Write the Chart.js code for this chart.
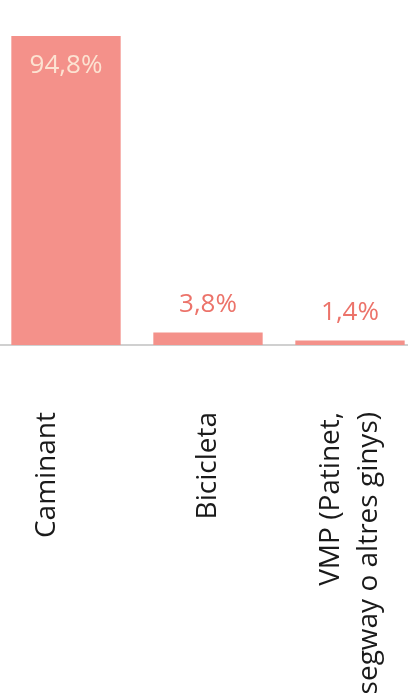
<!DOCTYPE html>
<html>
<head>
<meta charset="utf-8">
<script src="https://cdn.jsdelivr.net/npm/chart.js@4/dist/chart.umd.min.js"></script>
<style>
  html, body { margin: 0; padding: 0; background: #fff; overflow: hidden; }
  #wrap { position: absolute; left: -5px; top: 0; width: 426px; height: 699px; }
</style>
</head>
<body>
<div id="wrap"><canvas id="mode-chart"></canvas></div>
<script>
// Mode of travel share (%)
const categories = [["Caminant", ""], ["Bicicleta"], ["VMP (Patinet,", "segway o altres ginys)"]];
const shares = [94.8, 3.8, 1.4];
const yTicks = [0, 100];

const BAR_COLOR = "#F4918A";
const INSIDE_COLOR = "#FCE3D2";
const OUTSIDE_COLOR = "#EC736A";

const valueLabels = {
    id: "valueLabels",
    afterDatasetsDraw(chart) {
        const { ctx } = chart;
        const meta = chart.getDatasetMeta(0);
        ctx.save();
        ctx.font = '26px "Open Sans"';
        ctx.textAlign = "center";
        ctx.textBaseline = "middle";
        meta.data.forEach((bar, i) => {
            const text = shares[i].toFixed(1).replace(".", ",") + "%";
            const inside = bar.base - bar.y > 80;
            ctx.fillStyle = inside ? INSIDE_COLOR : OUTSIDE_COLOR;
            ctx.fillText(text, bar.x, inside ? bar.y + 30 : bar.y - 28);
        });
        ctx.restore();
    },
};

const categoryLabels = {
    id: "categoryLabels",
    afterDraw(chart) {
        const { ctx } = chart;
        const x = chart.scales.x;
        const lineGap = 38;
        const top = 412;
        ctx.save();
        ctx.font = '28px "Open Sans"';
        ctx.fillStyle = "#1a1a1a";
        ctx.textAlign = "right";
        ctx.textBaseline = "middle";
        chart.data.labels.forEach((lines, i) => {
            const cx = x.getPixelForValue(i);
            lines.forEach((line, k) => {
                const lx = cx + (k - (lines.length - 1) / 2) * lineGap;
                ctx.save();
                ctx.translate(lx, top);
                ctx.rotate(-Math.PI / 2);
                ctx.fillText(line, 0, 0);
                ctx.restore();
            });
        });
        ctx.restore();
    },
};

new Chart(document.getElementById("mode-chart"), {
    type: "bar",
    data: {
        labels: categories,
        datasets: [{
            data: shares,
            backgroundColor: BAR_COLOR,
            borderWidth: 0,
            categoryPercentage: 1,
            barPercentage: 0.77,
        }],
    },
    options: {
        responsive: true,
        maintainAspectRatio: false,
        animation: false,
        layout: { padding: { top: 19, bottom: 354, left: 0, right: 0 } },
        plugins: {
            legend: { display: false },
            tooltip: { enabled: false },
        },
        scales: {
            x: {
                grid: { display: false, drawTicks: false },
                border: { display: true, color: "#d0d0d0", width: 2 },
                ticks: { display: false },
            },
            y: {
                display: false,
                min: yTicks[0],
                max: yTicks[1],
            },
        },
    },
    plugins: [valueLabels, categoryLabels],
});
</script>
</body>
</html>
